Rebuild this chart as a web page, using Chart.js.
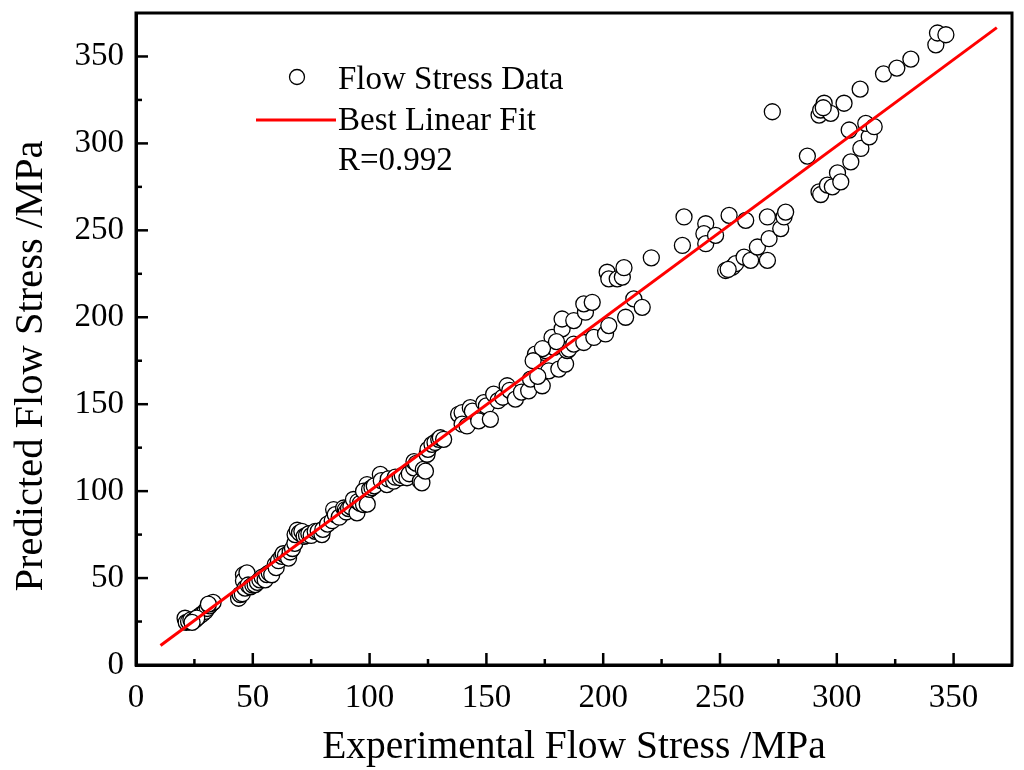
<!DOCTYPE html>
<html>
<head>
<meta charset="utf-8">
<title>Flow Stress</title>
<script src="https://cdn.jsdelivr.net/npm/chart.js@4.4.1/dist/chart.umd.min.js"></script>
<style>
  html, body { margin:0; padding:0; background:#fff; }
  #wrap { width:1024px; height:770px; position:relative; }
</style>
</head>
<body>
<div id="wrap"><canvas id="grafik"></canvas></div>
<script>
// data (MPa)
const expStress = [
  21,21.5,22.5,23.5,24.5,25.3,26.5,27.5,28.5,29.6,30.5,31.5,32.4,33,31,26,24,
  43.9,44.6,45.5,46,46,46.7,47.5,48,49,50,51,52,53,54,55.3,56,57,58.1,59.6,60,
  61,62.4,63,64,65.3,66,67,68,68.1,69,70,71,72,73,74,75,76.7,78,79.6,80,
  82,84,84.6,85.3,87,88.9,89.6,90,91,92,93.1,94.6,95,96,97.4,98.9,97.4,99,100,101,
  102,104.6,105,107.4,108,110.3,111,113.1,114,116,117,118.9,119,120,121.7,122.4,123,123.9,124.6,125,126.7,128,129.6,130.3,131.7,
  138.1,139.6,139.6,141.7,143.1,144,146.7,148.9,150,151.7,153.1,155,157,158.9,160,162.4,
  165,168.1,168.9,171,173.9,174.6,175.3,176.7,178.1,178.9,181,182.4,182.4,183.9,184.6,185.3,187.4,187.4,191.7,192.4,191.7,195.3,196,201,202.4,209.6,213.1,216.7,201.7,202.4,206,208.2,208.9,220.6,174,180,172,170,
  233.9,234.6,243.9,243.1,243.9,248.1,253.9,252.4,255.3,256.7,260.3,261,263.1,266,270.3,270.3,271,276,277.4,278.1,272.4,253.5,
  287.4,292.4,293.1,296,298.1,300.3,301.7,306,310.3,313.9,312.4,316,305.3,292.4,293.1,294.6,297.4,303.1,310,320,325.7,331.7,342.4,343.1,346.7,294.2
];
const predStress = [
  26.9,24.5,25,26,25.5,26,27.5,28.5,29.5,30.8,32.5,34,35.5,36,35,27,24.5,
  38.4,40.5,41,51.9,48.5,44.2,53,46,45,46,46.2,47.5,49,50.5,49,52,53,51.9,57.7,56,
  60,62.5,64,63,61.5,65,67,70,75,77.5,76,76.9,74,74.5,75.5,74.5,76.9,77,75,78,
  81,83,89.4,86.5,85,90.3,89.4,88,90,91,95.2,87.5,94,93,92.3,103.8,100,92.5,101,102,
  103,109.6,106,103.8,107,105.7,108,107.7,109,107.7,110,113.4,117,116,105.7,104.8,112.5,111.5,121.2,124,126.9,128,129.8,130.7,129.8,
  144.2,145.2,138.5,137.5,148,146,140.4,150.9,149,141.3,155.8,152,154,160.6,158,152.9,
  157,157.7,164.4,178.8,160.6,179.8,180.8,169.2,188.4,182.7,170.2,193.3,199,173.1,180.8,181.7,184.6,198.1,185.5,202.9,207.7,208.6,188.4,190.4,195.2,200,210.6,205.7,225.9,222.1,222.1,223.1,228.5,234.2,182,186,166,175,
  241.3,257.7,253.8,248.1,242.3,247.1,258.6,226.9,228.8,230.8,234.6,255.7,232.7,240.4,257.7,232.7,245.2,251,257.7,260.5,318.2,227.5,
  292.7,272.1,270.6,276,275,283,277.9,289.4,297.1,303.8,311.5,309.6,307.7,316.3,319.2,323.1,317.3,323.1,331.2,340,343.3,348.5,356.7,363.5,362.5,320.5
];
// best linear fit end points
const fitX = [10.5, 368.5];
const fitY = [11.2, 366.6];
const axisMin = 0, axisMax = 375, tickStep = 25, labelStep = 50;
const rText = "R=0.992";

const serif = "'Liberation Serif','Times New Roman',serif";

const scatterPts = expStress.map((x,i)=>({x:x, y:predStress[i]}));
const fitPts = fitX.map((x,i)=>({x:x, y:fitY[i]}));

// inward ticks, frame, legend, axis titles
const dekor = {
  id:"dekor",
  afterDraw(c){
    const ctx = c.ctx, a = c.chartArea;
    const sx = c.scales.x, sy = c.scales.y;
    ctx.save();
    ctx.strokeStyle = "#000";
    ctx.lineWidth = 3;
    ctx.strokeRect(a.left, a.top, a.right-a.left, a.bottom-a.top);
    ctx.lineWidth = 2.5;
    sx.ticks.forEach(t=>{
      if(t.value<=axisMin || t.value>=axisMax) return;
      const p = sx.getPixelForValue(t.value);
      const len = t.value%labelStep===0 ? 12 : 6;
      ctx.beginPath(); ctx.moveTo(p, a.bottom); ctx.lineTo(p, a.bottom-len); ctx.stroke();
    });
    sy.ticks.forEach(t=>{
      if(t.value<=axisMin || t.value>=axisMax) return;
      const p = sy.getPixelForValue(t.value);
      const len = t.value%labelStep===0 ? 12 : 6;
      ctx.beginPath(); ctx.moveTo(a.left, p); ctx.lineTo(a.left+len, p); ctx.stroke();
    });

    // legend
    const ds0 = c.data.datasets[1], ds1 = c.data.datasets[0];
    ctx.font = "33px " + serif;
    ctx.textBaseline = "alphabetic";
    ctx.textAlign = "left";
    ctx.beginPath();
    ctx.arc(297, 77, 7.5, 0, Math.PI*2);
    ctx.fillStyle = "#fff"; ctx.fill();
    ctx.lineWidth = ds0.borderWidth; ctx.strokeStyle = ds0.borderColor; ctx.stroke();
    ctx.fillStyle = "#000";
    ctx.fillText(ds0.label, 338, 89);
    ctx.beginPath();
    ctx.moveTo(256, 120); ctx.lineTo(336, 120);
    ctx.lineWidth = ds1.borderWidth; ctx.strokeStyle = ds1.borderColor; ctx.stroke();
    ctx.fillText(ds1.label, 338, 130);
    ctx.fillText(rText, 338, 170);

    // axis titles
    ctx.font = "39.5px " + serif;
    ctx.textAlign = "center";
    ctx.fillText("Experimental Flow Stress /MPa", 574, 758);
    ctx.translate(42, 366);
    ctx.rotate(-Math.PI/2);
    ctx.font = "40.5px " + serif;
    ctx.fillText("Predicted Flow Stress /MPa", 0, 0);
    ctx.restore();
  }
};

const tickCb = v => (v%labelStep===0 && v<axisMax) ? v : "";

new Chart(document.getElementById("grafik"), {
  type:"scatter",
  data:{
    datasets:[
      {type:"line", label:"Best Linear Fit", data:fitPts, borderColor:"#ff0000", borderWidth:3,
       pointRadius:0, fill:false, order:0},
      {label:"Flow Stress Data", data:scatterPts, pointStyle:"circle", pointRadius:8,
       backgroundColor:"#fff", borderColor:"#000", borderWidth:1.3, order:1}
    ]
  },
  options:{
    responsive:true, maintainAspectRatio:false, animation:false,
    layout:{padding:{top:13, right:12, left:0, bottom:0}},
    plugins:{legend:{display:false}, tooltip:{enabled:false}},
    scales:{
      x:{
        type:"linear", min:axisMin, max:axisMax,
        grid:{display:false, drawTicks:false},
        border:{display:true, color:"#000", width:3},
        ticks:{stepSize:tickStep, autoSkip:false, maxRotation:0, padding:14, color:"#000",
               font:{family:serif, size:33}, callback:tickCb},
        afterFit: s => { s.height = 105; s.paddingLeft = 0; s.paddingRight = 0; }
      },
      y:{
        type:"linear", min:axisMin, max:axisMax,
        grid:{display:false, drawTicks:false},
        border:{display:true, color:"#000", width:3},
        ticks:{stepSize:tickStep, autoSkip:false, padding:12, color:"#000",
               font:{family:serif, size:33}, callback:tickCb},
        afterFit: s => { s.width = 136; s.paddingTop = 0; s.paddingBottom = 0; }
      }
    }
  },
  plugins:[dekor]
});
</script>
</body>
</html>
